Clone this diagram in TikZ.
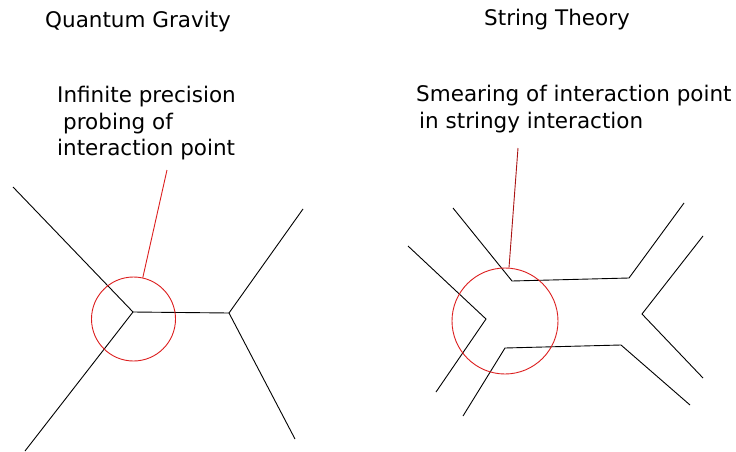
\documentclass[tikz,border=0pt]{standalone}
\usepackage{fontspec}
\setmainfont{DejaVu Sans}
\definecolor{circred}{RGB}{220,30,30}
\definecolor{darkred}{RGB}{170,20,20}
\begin{document}
\begin{tikzpicture}[x=1pt,y=-1pt,
  txt/.style={inner sep=0pt, font=\fontsize{21.5}{27}\selectfont, anchor=base west},
  wire/.style={line width=0.9pt, black, line join=miter},
  pointer/.style={line width=0.9pt, circred}]
\useasboundingbox (0,0) rectangle (736,452);
% titles
\node[txt] (qg) at (45,28) {Quantum Gravity};
\node[txt] (st) at (484,26) {String Theory};
\node[txt] (lbl1a) at (57,102) {Infinite precision};
\node[txt] (lbl1b) at (63,129) {probing of};
\node[txt] (lbl1c) at (57,155) {interaction point};
\node[txt] (lbl2a) at (416,101) {Smearing of interaction point};
\node[txt] (lbl2b) at (419,128) {in stringy interaction};
% left diagram
\coordinate (a1) at (13,187);
\coordinate (v1) at (133,312);
\coordinate (a2) at (25,451);
\coordinate (v2) at (229,313);
\coordinate (a3) at (303,209);
\coordinate (a4) at (295,439);
\draw[wire] (a1) -- (v1) -- (a2);
\draw[wire] (v1) -- (v2);
\draw[wire] (a3) -- (v2) -- (a4);
\node[draw=circred, line width=0.9pt, circle, minimum size=84pt, inner sep=0pt] (c1) at (133.5,319) {};
\coordinate (p1) at (167,170);
\draw[pointer] (p1) -- (c1);
% right diagram
\coordinate (b1) at (408,246);
\coordinate (b2) at (486,319);
\coordinate (b3) at (436,392);
\draw[wire] (b1) -- (b2) -- (b3);
\coordinate (u1) at (453,208);
\coordinate (u2) at (512,281);
\coordinate (u3) at (629,278);
\coordinate (u4) at (684,203);
\draw[wire] (u1) -- (u2) -- (u3) -- (u4);
\coordinate (l1) at (463,416);
\coordinate (l2) at (505,348);
\coordinate (l3) at (621,345);
\coordinate (l4) at (690,405);
\draw[wire] (l1) -- (l2) -- (l3) -- (l4);
\coordinate (r1) at (703,236);
\coordinate (r2) at (642,314);
\coordinate (r3) at (703,378);
\draw[wire] (r1) -- (r2) -- (r3);
\node[draw=circred, line width=0.9pt, circle, minimum size=106pt, inner sep=0pt] (c2) at (505,321) {};
\coordinate (p2) at (518,148);
\draw[line width=0.9pt, darkred] (p2) -- (c2);
\end{tikzpicture}
\end{document}
